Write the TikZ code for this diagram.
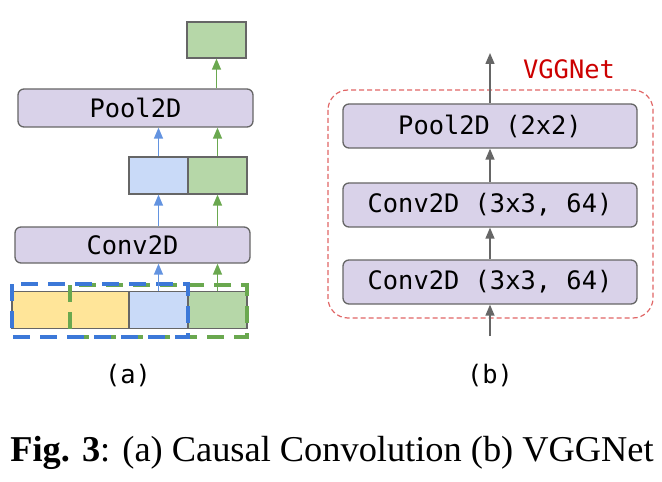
\documentclass[tikz,border=0pt]{standalone}
\usepackage{fontspec}
\setmainfont{Liberation Serif}
\setmonofont{DejaVu Sans Mono}
\usetikzlibrary{arrows.meta}

\definecolor{layerfill}{HTML}{D9D2E9}
\definecolor{layerdraw}{HTML}{666666}
\definecolor{cellyellow}{HTML}{FFE599}
\definecolor{cellblue}{HTML}{C9DAF8}
\definecolor{cellgreen}{HTML}{B6D7A8}
\definecolor{pathblue}{HTML}{3C78D8}
\definecolor{pathgreen}{HTML}{6AA84F}
\definecolor{vggred}{HTML}{E06666}
\definecolor{vggtext}{HTML}{CC0000}

\tikzset{
  layer/.style={rectangle,rounded corners=6bp,draw=layerdraw,fill=layerfill,line width=1.3bp,
    font=\ttfamily\fontsize{25.5}{25.5}\selectfont,inner sep=0pt},
  cell/.style={rectangle,draw=layerdraw,line width=1.3bp,minimum width=59bp,minimum height=37bp,inner sep=0pt},
  flow/.style={-{Triangle[width=9bp,length=11bp]},line width=1.4bp},
  lbl/.style={font=\ttfamily\fontsize{25.5}{25.5}\selectfont,inner sep=0pt}
}

\begin{document}
\begin{tikzpicture}[x=1bp,y=-1bp]

      \useasboundingbox (0,0) rectangle (662,482);

      % (a) causal convolution
      \node[cell,fill=cellyellow,minimum width=117bp] (in1) at (70.5,310){};
      \node[cell,fill=cellblue] (in2) at (158.5,310){};
      \node[cell,fill=cellgreen] (in3) at (217.5,310){};
      \draw[pathgreen,line width=3.5bp,dash pattern=on 17bp off 10bp] (70,285) rectangle (247,337);
      \draw[pathblue,line width=3.5bp,dash pattern=on 17bp off 10bp] (12,284) rectangle (188,337);

      \node[layer,minimum width=235bp,minimum height=36bp] (conv) at (132.5,245){Conv2D};
      \node[cell,fill=cellblue] (mid1) at (158.5,175.5){};
      \node[cell,fill=cellgreen] (mid2) at (217.5,175.5){};
      \node[layer,minimum width=235bp,minimum height=38bp] (pool) at (135.5,108){Pool2D};
      \node[cell,fill=cellgreen,minimum height=36bp] (out) at (216.5,40){};

      \draw[flow,pathblue!80] (in2) -- (in2 |- conv.south);
      \draw[flow,pathblue!80] (mid1 |- conv.north) -- (mid1);
      \draw[flow,pathblue!80] (mid1) -- (mid1 |- pool.south);
      \draw[flow,pathgreen] (in3) -- (in3 |- conv.south);
      \draw[flow,pathgreen] (mid2 |- conv.north) -- (mid2);
      \draw[flow,pathgreen] (mid2) -- (mid2 |- pool.south);
      \draw[flow,pathgreen] (out |- pool.north) -- (out);

      \node[lbl] (capa) at (128,376){(a)};

      % (b) VGGNet
      \draw[vggred,line width=1.2bp,dash pattern=on 5bp off 3bp,rounded corners=20bp] (328,90) rectangle (653,318);
      \node[lbl,text=vggtext] (vgg) at (569,69){VGGNet};
      \node[layer,minimum width=294bp,minimum height=44bp] (c1) at (490,282){Conv2D (3x3, 64)};
      \node[layer,minimum width=294bp,minimum height=44bp] (c2) at (490,205){Conv2D (3x3, 64)};
      \node[layer,minimum width=294bp,minimum height=44bp] (p1) at (490,126){Pool2D (2x2)};
      \coordinate (bin) at (490,336);
      \coordinate (bout) at (490,53);

      \draw[flow,layerdraw] (bin) -- (c1);
      \draw[flow,layerdraw] (c1) -- (c2);
      \draw[flow,layerdraw] (c2) -- (p1);
      \draw[flow,layerdraw] (p1) -- (bout);

      \node[lbl] (capb) at (490,376){(b)};

      \node[font=\fontsize{36.5}{36.5}\selectfont,inner sep=0pt,anchor=base] (fig) at (332,461){\textbf{Fig. 3}: (a) Causal Convolution (b) VGGNet};

\end{tikzpicture}
\end{document}
